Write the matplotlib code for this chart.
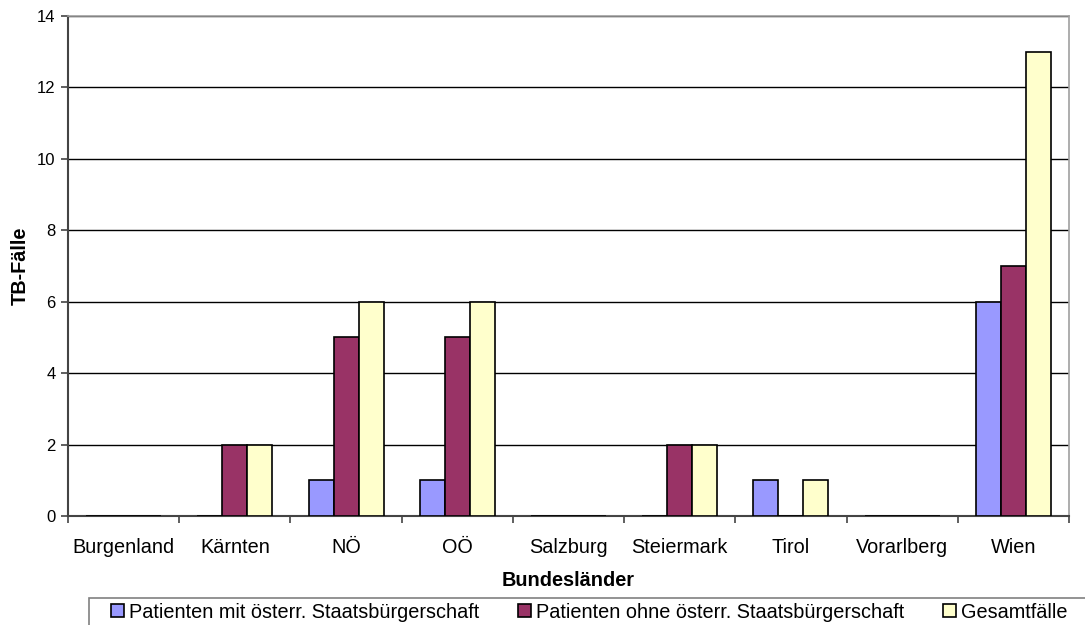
import numpy as np
import matplotlib.pyplot as plt
from matplotlib.patches import Patch, Rectangle

plt.rcParams['font.family'] = ['Liberation Sans', 'DejaVu Sans']

laender = ["Burgenland", "Kärnten", "NÖ", "OÖ", "Salzburg",
           "Steiermark", "Tirol", "Vorarlberg", "Wien"]
mit_staatsb = [0, 0, 1, 1, 0, 0, 1, 0, 6]
ohne_staatsb = [0, 2, 5, 5, 0, 2, 0, 0, 7]
gesamt = [0, 2, 6, 6, 0, 2, 1, 0, 13]

namen = ["Patienten mit österr. Staatsbürgerschaft",
         "Patienten ohne österr. Staatsbürgerschaft",
         "Gesamtfälle"]
farben = ["#9999FF", "#993366", "#FFFFCC"]

W, H = 1085, 625
fig = plt.figure(figsize=(W / 100, H / 100), dpi=100)
ax = fig.add_axes([68 / W, 1 - 516 / H, 1001 / W, 500 / H])

x = np.arange(len(laender))
w = 0.225
for i, (werte, farbe) in enumerate(zip([mit_staatsb, ohne_staatsb, gesamt], farben)):
    ax.bar(x + (i - 1) * w, werte, w, color=farbe, edgecolor="black",
           linewidth=1.2, zorder=3)

ax.set_xlim(-0.5, len(laender) - 0.5)
ax.set_ylim(0, 14)
ax.set_yticks(range(0, 15, 2))
ax.yaxis.grid(True, color="black", linewidth=1, zorder=0)

ax.set_xticks(x)
ax.set_xticklabels(laender, fontsize=14.3)
ax.set_xticks(np.arange(-0.5, len(laender), 1), minor=True)
ax.tick_params(axis="x", which="major", length=0, pad=16)
ax.tick_params(axis="x", which="minor", length=5, width=1.2, color="#444444")
ax.tick_params(axis="y", labelsize=12, length=5, width=1.2, color="#444444", pad=4)

for s in ["top", "right"]:
    ax.spines[s].set_color("#a0a0a0")
    ax.spines[s].set_linewidth(1.2)
for s in ["left", "bottom"]:
    ax.spines[s].set_color("#444444")
    ax.spines[s].set_linewidth(1.5)

ax.set_xlabel("Bundesländer", fontsize=14.3, fontweight="bold", labelpad=10)
ax.set_ylabel("TB-Fälle", fontsize=14.3, fontweight="bold")
ax.yaxis.set_label_coords(-38 / 1001, 0.5)

# legend frame runs past the bottom and right edge of the figure
fig.patches.append(Rectangle((89 / W, -0.05), 1.1, 0.05 + (H - 598) / H,
                             transform=fig.transFigure, facecolor="white",
                             edgecolor="#808080", linewidth=1.2))

handles = [Patch(facecolor=f, edgecolor="black", linewidth=1.2) for f in farben]
fig.legend(handles, namen, loc="center left", ncol=3,
           bbox_to_anchor=(111 / W, 1 - 612 / H), fontsize=14.3,
           frameon=False, handlelength=0.65, handleheight=0.65,
           handletextpad=0.25, columnspacing=1.95, borderpad=0, borderaxespad=0)

fig.savefig("out.png", dpi=100)
